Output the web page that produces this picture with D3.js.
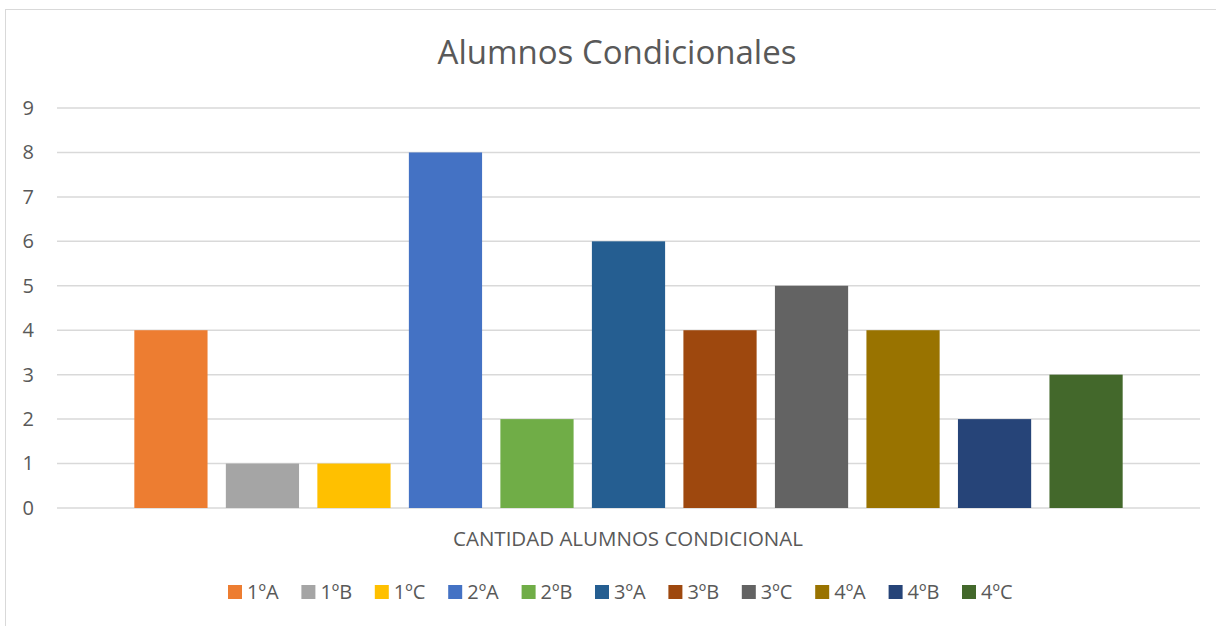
<!DOCTYPE html>
<html>
<head>
<meta charset="utf-8">
<script src="https://cdn.jsdelivr.net/npm/d3@7"></script>
<style>
  body { margin: 0; background: #fff; }
  text { font-family: "Open Sans", "Noto Sans", sans-serif; fill: #595959; }
</style>
</head>
<body>
<div id="chart-area"></div>
<script>
// data
var series = ['1ºA', '1ºB', '1ºC', '2ºA', '2ºB', '3ºA', '3ºB', '3ºC', '4ºA', '4ºB', '4ºC'];
var values = [4, 1, 1, 8, 2, 6, 4, 5, 4, 2, 3];
var colors = ['#ED7D31', '#A5A5A5', '#FFC000', '#4472C4', '#70AD47', '#255E91',
              '#9E480E', '#636363', '#997300', '#264478', '#43682B'];
var yTicks = [0, 1, 2, 3, 4, 5, 6, 7, 8, 9];
var category = 'CANTIDAD ALUMNOS CONDICIONAL';

var W = 1216, H = 626;
var svg = d3.select('#chart-area')
    .append('svg')
        .attr('width', W)
        .attr('height', H);

// chart border
svg.append('rect')
    .attr('x', 5.5).attr('y', 9.5)
    .attr('width', 1240).attr('height', 700)
    .attr('fill', 'none')
    .attr('stroke', '#d9d9d9')
    .attr('stroke-width', 1);

var plotLeft = 57, plotRight = 1200, plotTop = 108, plotBottom = 508;

var y = d3.scaleLinear().domain([0, 9]).range([plotBottom, plotTop]);

var x = d3.scaleBand()
    .domain(series)
    .range([plotLeft, plotRight])
    .paddingInner(0.2)
    .paddingOuter(0.845);

// gridlines
svg.append('g').selectAll('line').data(yTicks)
    .enter().append('line')
        .attr('x1', plotLeft).attr('x2', plotRight)
        .attr('y1', d => y(d)).attr('y2', d => y(d))
        .attr('stroke', '#d9d9d9')
        .attr('stroke-width', 1.5);

// y axis labels
var yAxis = d3.axisLeft(y).tickValues(yTicks).tickSize(0).tickPadding(0);
var ya = svg.append('g')
    .attr('transform', 'translate(34,0)')
    .call(yAxis);
ya.select('.domain').remove();
ya.selectAll('text')
    .attr('font-size', '20px')
    .attr('fill', '#595959')
    .style('font-family', '"Open Sans", "Noto Sans", sans-serif');

// bars
svg.append('g').selectAll('rect').data(values)
    .enter().append('rect')
        .attr('x', (d, i) => x(series[i]))
        .attr('y', d => y(d))
        .attr('width', x.bandwidth())
        .attr('height', d => plotBottom - y(d))
        .attr('fill', (d, i) => colors[i]);

// title
svg.append('text')
    .attr('x', 617).attr('y', 64)
    .attr('text-anchor', 'middle')
    .attr('font-size', '33px')
    .text('Alumnos Condicionales');

// category label
svg.append('text')
    .attr('x', 628).attr('y', 546)
    .attr('text-anchor', 'middle')
    .attr('font-size', '20.5px')
    .text(category);

// legend
var legStep = 73.4, legX = 228;
var leg = svg.append('g').selectAll('g').data(series)
    .enter().append('g')
        .attr('transform', (d, i) => 'translate(' + (legX + i * legStep) + ',585)');
leg.append('rect')
    .attr('width', 14).attr('height', 14)
    .attr('fill', (d, i) => colors[i]);
leg.append('text')
    .attr('x', 19).attr('y', 14)
    .attr('font-size', '20px')
    .text(d => d);
</script>
</body>
</html>
